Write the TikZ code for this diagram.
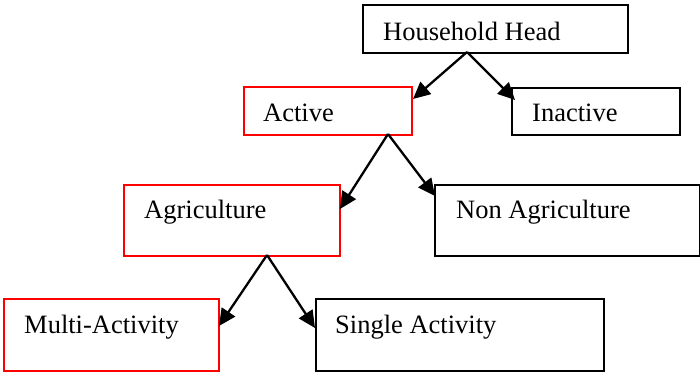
\documentclass[tikz,border=0pt]{standalone}
\usepackage{fontspec}
\setmainfont{Liberation Serif}
\usetikzlibrary{arrows.meta}
\definecolor{boxred}{RGB}{255,0,0}
\tikzset{
  box/.style={draw=black, line width=1.7pt, anchor=north west, inner sep=0pt, minimum width=#1},
  redbox/.style={box=#1, draw=boxred},
  lbl/.style={anchor=base west, inner sep=0pt, font=\fontsize{26.5}{30}\selectfont},
  arr/.style={line width=2.3pt, -{Triangle[length=17pt,width=16pt]}}
}
\begin{document}
\begin{tikzpicture}[x=1pt,y=-1pt]
\useasboundingbox (0,0) rectangle (700,372);
% boxes
\node[box=265pt, minimum height=48pt] (hh) at (362,4) {};
\node[redbox=168pt, minimum height=48pt] (act) at (243,86) {};
\node[box=168pt, minimum height=47pt] (inact) at (511,87) {};
\node[redbox=216pt, minimum height=71pt] (agr) at (123,184) {};
\node[box=265pt, minimum height=71pt] (nagr) at (434,184) {};
\node[redbox=215pt, minimum height=72pt] (multi) at (3,298) {};
\node[box=288pt, minimum height=72pt] (single) at (315,298) {};
% labels
\node[lbl] (hh-t) at (383,40) {Household Head};
\node[lbl] (act-t) at (263,121) {Active};
\node[lbl] (inact-t) at (532,121) {Inactive};
\node[lbl] (agr-t) at (144,218) {Agriculture};
\node[lbl] (nagr-t) at (456,218) {Non Agriculture};
\node[lbl] (multi-t) at (24,333) {Multi-Activity};
\node[lbl] (single-t) at (335,333) {Single Activity};
% connector end points
\coordinate (hh-a) at (467,52);
\coordinate (act-tip) at (413,99);
\coordinate (inact-tip) at (515,100);
\coordinate (act-a) at (388,134);
\coordinate (agr-tip) at (340,209);
\coordinate (nagr-tip) at (435,196);
\coordinate (agr-a) at (267,255);
\coordinate (multi-tip) at (219,326);
\coordinate (single-tip) at (315,328);
% connectors
\draw[arr] (hh-a) -- (act-tip);
\draw[arr] (hh-a) -- (inact-tip);
\draw[arr] (act-a) -- (agr-tip);
\draw[arr] (act-a) -- (nagr-tip);
\draw[arr] (agr-a) -- (multi-tip);
\draw[arr] (agr-a) -- (single-tip);
\end{tikzpicture}
\end{document}
